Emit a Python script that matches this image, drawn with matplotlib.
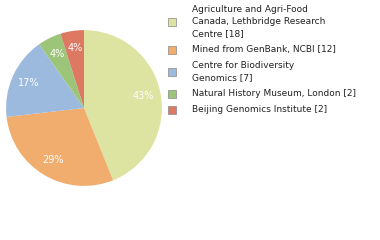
import matplotlib.pyplot as plt
from matplotlib.patches import Rectangle

labels = ["Agriculture and Agri-Food\nCanada, Lethbridge Research\nCentre [18]",
          "Mined from GenBank, NCBI [12]",
          "Centre for Biodiversity\nGenomics [7]",
          "Natural History Museum, London [2]",
          "Beijing Genomics Institute [2]"]
counts = [18, 12, 7, 2, 2]
colors = ["#dde3a0", "#f0ad6e", "#9cb9de", "#9dc57a", "#dd7862"]

fig = plt.figure(figsize=(3.8, 2.4), dpi=100)
ax = fig.add_axes([0.221 - 0.205, 0.55 - 0.325, 0.41, 0.65])

ax.pie(counts, colors=colors, startangle=90, counterclock=False,
       autopct=lambda p: "%d%%" % int(p + 1e-6),
       pctdistance=0.78, textprops={"color": "white", "fontsize": 7},
       wedgeprops={"linewidth": 0})
ax.set_xlim(-1, 1)
ax.set_ylim(-1, 1)
ax.set_aspect("equal")

# legend drawn by hand
y = 1 - 10 / 240
line = 12 / 240
for lab, col in zip(labels, colors):
    n = lab.count("\n") + 1
    mid = y - (n - 1) * line / 2
    fig.patches.append(Rectangle((168 / 380, mid - 4 / 240), 8 / 380, 8 / 240,
                                 transform=fig.transFigure, facecolor=col,
                                 edgecolor="#888888", linewidth=0.5))
    for i, part in enumerate(lab.split("\n")):
        fig.text(192 / 380, y - i * line, part, fontsize=6.5, va="center",
                 color="#222222")
    y -= n * line + 4 / 240

fig.savefig("out.png", dpi=100)
